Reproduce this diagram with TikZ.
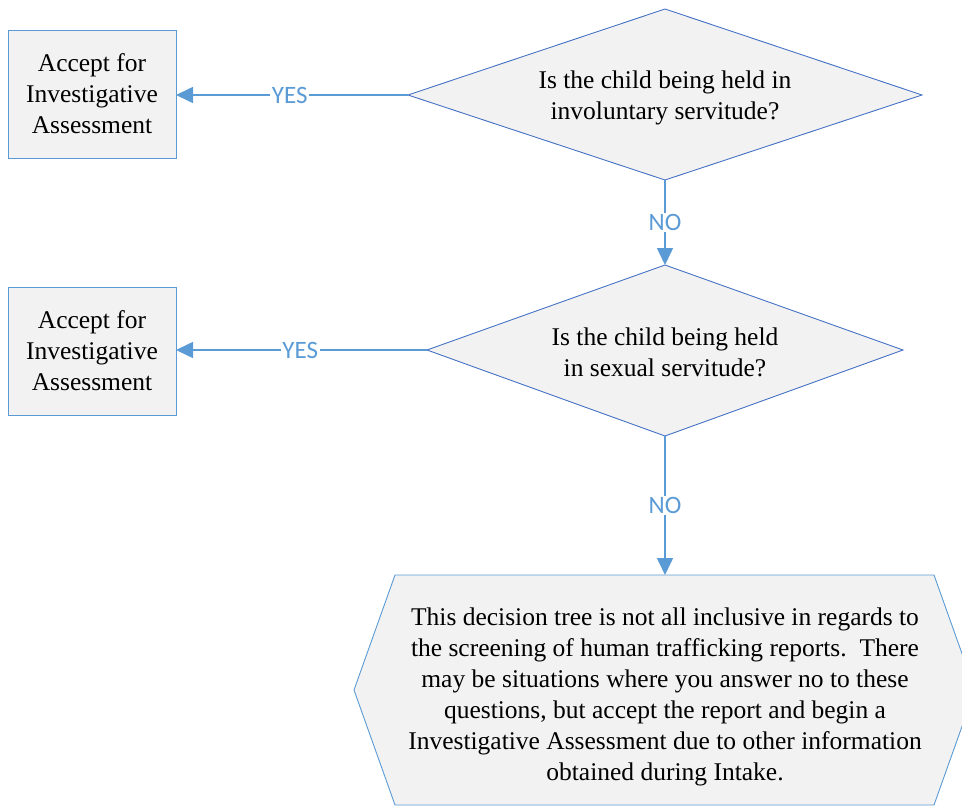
\documentclass[tikz,border=0pt]{standalone}
\usepackage{fontspec}
\setmainfont{Liberation Serif}
\newfontfamily\lblfont{Carlito}
\usetikzlibrary{arrows.meta}
\definecolor{lineblue}{HTML}{5B9BD5}
\definecolor{edgeblue}{HTML}{4472C4}
\definecolor{boxgray}{HTML}{F2F2F2}
\tikzset{
  mainfont/.style={font=\fontsize{25.5}{31}\selectfont},
  acceptbox/.style={draw=lineblue, fill=boxgray, line width=0.9pt, minimum width=168pt, minimum height=128pt, inner sep=0pt, outer sep=0pt, align=center, mainfont},
  decisionshape/.style={draw=edgeblue, fill=boxgray, line width=0.9pt},
  qtext/.style={align=center, mainfont},
  flow/.style={draw=lineblue, line width=1.6pt, -{Triangle[length=17pt,width=16pt]}},
  lbl/.style={fill=white, text=lineblue, inner sep=1.5pt, font=\lblfont\fontsize{25}{28}\selectfont}
}
\begin{document}
\begin{tikzpicture}[x=1pt,y=-1pt]
\useasboundingbox (0,0) rectangle (962,808);
% boxes
\node[acceptbox] (acc1) at (92,94) {Accept for\\Investigative\\Assessment};
\node[acceptbox] (acc2) at (92,351) {Accept for\\Investigative\\Assessment};
% decision 1
\coordinate (q1w) at (408,95);
\coordinate (q1n) at (665,9);
\coordinate (q1e) at (922,95);
\coordinate (q1s) at (665,180);
\draw[decisionshape] (q1w) -- (q1n) -- (q1e) -- (q1s) -- cycle;
\node[qtext] (q1) at (665,98) {Is the child being held in\\involuntary servitude?};
% decision 2
\coordinate (q2w) at (427,350);
\coordinate (q2n) at (665,265);
\coordinate (q2e) at (903,350);
\coordinate (q2s) at (665,436);
\draw[decisionshape] (q2w) -- (q2n) -- (q2e) -- (q2s) -- cycle;
\node[qtext] (q2) at (665,352) {Is the child being held\\in sexual servitude?};
% hexagon note
\begin{scope}
\clip (0,0) rectangle (962,808);
\draw[draw=lineblue, fill=boxgray, line width=0.9pt]
  (395,575) -- (934,575) -- (975,690) -- (934,805) -- (395,805) -- (354,690) -- cycle;
\end{scope}
\coordinate (hextop) at (665,575);
\node[mainfont, align=center] (note) at (665,696.5) {This decision tree is not all inclusive in regards to\\the screening of human trafficking reports.\ \ There\\may be situations where you answer no to these\\questions, but accept the report and begin a\\Investigative Assessment due to other information\\obtained during Intake.};
% connectors
\draw[flow] (q1w) -- node[lbl, pos=0.51] {YES} (q1w -| acc1.east);
\draw[flow] (q2w) -- node[lbl, pos=0.505] {YES} (q2w -| acc2.east);
\draw[flow] (q1s) -- node[lbl, pos=0.5] {NO} (q2n);
\draw[flow] (q2s) -- node[lbl, pos=0.5] {NO} (hextop);
\end{tikzpicture}
\end{document}
